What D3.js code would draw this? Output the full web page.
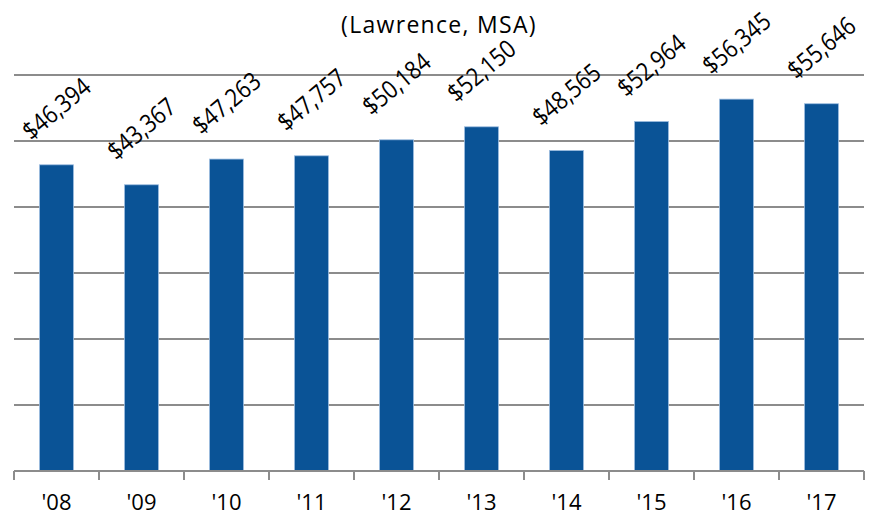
<!DOCTYPE html>
<html>
<head>
<meta charset="utf-8">
<script src="https://cdn.jsdelivr.net/npm/d3@7"></script>
<style>
  body { margin: 0; background: #fff; }
  svg { display: block; font-family: "Open Sans", sans-serif; }
</style>
</head>
<body>
<svg id="chart"></svg>
<script>
// chart data
var years = ["'08", "'09", "'10", "'11", "'12", "'13", "'14", "'15", "'16", "'17"];
var incomes = [46394, 43367, 47263, 47757, 50184, 52150, 48565, 52964, 56345, 55646];
var yTicks = [0, 10000, 20000, 30000, 40000, 50000, 60000];
var title = "(Lawrence, MSA)";

var width = 869, height = 516;
var plotLeft = 14, plotRight = 864, plotTop = 75, plotBottom = 471;

var svg = d3.select('#chart')
    .attr('width', width)
    .attr('height', height);

var x = d3.scaleBand()
    .domain(years)
    .range([plotLeft, plotRight])
    .paddingInner(0.6)
    .paddingOuter(0.3);

var y = d3.scaleLinear()
    .domain([0, 60000])
    .range([plotBottom, plotTop]);

var fmt = d3.format('$,');

// title
svg.append('text')
    .attr('x', 439)
    .attr('y', 33)
    .attr('text-anchor', 'middle')
    .style('font-size', '23px')
    .style('letter-spacing', '1.3px')
    .style('fill', '#000')
    .text(title);

// gridlines (the baseline is drawn with the axis)
svg.selectAll('.grid')
    .data(yTicks.slice(1))
    .enter()
    .append('line')
    .attr('class', 'grid')
    .attr('x1', plotLeft)
    .attr('x2', plotRight)
    .attr('y1', function(d) { return y(d); })
    .attr('y2', function(d) { return y(d); })
    .attr('stroke', '#8c8c8c')
    .attr('stroke-width', 2);

// bars
svg.selectAll('.bar')
    .data(incomes)
    .enter()
    .append('rect')
    .attr('class', 'bar')
    .attr('x', function(d, i) { return x(years[i]); })
    .attr('y', function(d) { return y(d); })
    .attr('width', x.bandwidth())
    .attr('height', function(d) { return y(0) - y(d); })
    .attr('fill', '#0a5396')
    .attr('stroke', '#9dbde0')
    .attr('stroke-width', 0.8);

// x axis: baseline + ticks between categories
var xAxis = svg.append('g');
xAxis.append('line')
    .attr('x1', plotLeft)
    .attr('x2', plotRight)
    .attr('y1', plotBottom)
    .attr('y2', plotBottom)
    .attr('stroke', '#8c8c8c')
    .attr('stroke-width', 2);

var bounds = years.map(function(d) { return x(d) - x.step() * 0.3; });
bounds.push(plotRight);
xAxis.selectAll('.tick')
    .data(bounds)
    .enter()
    .append('line')
    .attr('x1', function(d) { return d; })
    .attr('x2', function(d) { return d; })
    .attr('y1', plotBottom)
    .attr('y2', plotBottom + 9)
    .attr('stroke', '#8c8c8c')
    .attr('stroke-width', 2);

xAxis.selectAll('.lbl')
    .data(years)
    .enter()
    .append('text')
    .attr('x', function(d) { return x(d) + x.bandwidth() / 2; })
    .attr('y', 510)
    .attr('text-anchor', 'middle')
    .style('font-size', '22px')
    .text(function(d) { return d; });

// rotated value labels above the bars
svg.selectAll('.val')
    .data(incomes)
    .enter()
    .append('text')
    .attr('class', 'val')
    .attr('transform', function(d, i) {
        var cx = x(years[i]) + x.bandwidth() / 2;
        var cy = y(d) - 56;
        return 'translate(' + cx + ',' + cy + ') rotate(-40) scale(0.87,1)';
    })
    .attr('text-anchor', 'middle')
    .attr('dy', '0.35em')
    .style('font-size', '25px')
    .text(function(d) { return fmt(d); });
</script>
</body>
</html>
